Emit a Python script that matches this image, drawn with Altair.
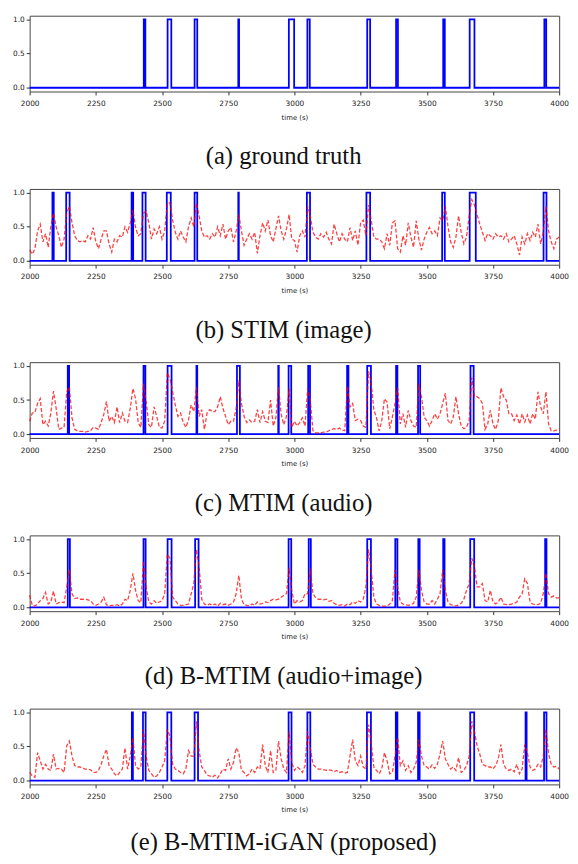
import altair as alt
import pandas as pd

# time grid for the score curves (seconds)
times = list(range(2000, 4001, 10))

# binary intervals (start, end) in seconds
gt_intervals = [(2431, 2437), (2521, 2535), (2623, 2633), (2788, 2791), (2979, 2999),
                (3049, 3058), (3275, 3286), (3384, 3391), (3562, 3568), (3662, 3680),
                (3944, 3951)]
stim_intervals = [(2086, 2091), (2138, 2151), (2385, 2391), (2426, 2438), (2518, 2533),
                  (2623, 2633), (2788, 2790), (3047, 3059), (3272, 3286), (3558, 3568),
                  (3662, 3685), (3941, 3952)]
mtim_intervals = [(2144, 2149), (2430, 2437), (2521, 2536), (2630, 2633), (2783, 2794),
                  (2939, 2941), (2978, 2988), (3052, 3059), (3199, 3204), (3275, 3289),
                  (3384, 3389), (3467, 3475), (3665, 3677)]
bmtim_intervals = [(2144, 2152), (2430, 2438), (2521, 2536), (2625, 2638), (2978, 2988),
                   (3054, 3062), (3275, 3289), (3381, 3389), (3468, 3473), (3562, 3567),
                   (3664, 3679), (3947, 3952)]
igan_intervals = [(2386, 2390), (2428, 2438), (2520, 2535), (2623, 2636), (2978, 2989),
                  (3049, 3060), (3274, 3289), (3383, 3389), (3467, 3473), (3664, 3679),
                  (3873, 3877), (3943, 3952)]

# predicted scores, one value every 10 s from 2000 to 4000
stim_scores = [
    0.16, 0.1, 0.18, 0.44, 0.54, 0.28, 0.4, 0.2, 0.5, 0.7,
    0.5, 0.37, 0.2, 0.32, 0.7, 0.8, 0.56, 0.37, 0.3, 0.28,
    0.3, 0.28, 0.37, 0.32, 0.49, 0.28, 0.18, 0.32, 0.44, 0.44,
    0.25, 0.13, 0.32, 0.28, 0.37, 0.35, 0.5, 0.42, 0.56, 0.75,
    0.49, 0.37, 0.4, 0.7, 0.73, 0.56, 0.32, 0.47, 0.4, 0.5,
    0.32, 0.44, 0.85, 0.85, 0.6, 0.42, 0.32, 0.44, 0.35, 0.28,
    0.5, 0.63, 0.5, 0.85, 0.66, 0.44, 0.35, 0.37, 0.32, 0.4,
    0.35, 0.5, 0.37, 0.54, 0.32, 0.44, 0.49, 0.28, 0.44, 0.68,
    0.44, 0.23, 0.32, 0.4, 0.32, 0.42, 0.11, 0.37, 0.56, 0.44,
    0.6, 0.37, 0.28, 0.47, 0.66, 0.44, 0.32, 0.47, 0.68, 0.32,
    0.3, 0.13, 0.37, 0.44, 0.35, 0.8, 0.66, 0.42, 0.35, 0.32,
    0.4, 0.35, 0.42, 0.32, 0.25, 0.54, 0.4, 0.28, 0.4, 0.32,
    0.28, 0.49, 0.3, 0.44, 0.23, 0.56, 0.6, 0.37, 0.82, 0.6,
    0.35, 0.32, 0.32, 0.28, 0.18, 0.4, 0.23, 0.56, 0.59, 0.18,
    0.13, 0.37, 0.23, 0.56, 0.35, 0.2, 0.59, 0.32, 0.16, 0.32,
    0.42, 0.49, 0.4, 0.44, 0.37, 0.63, 0.59, 0.8, 0.51, 0.28,
    0.2, 0.35, 0.66, 0.42, 0.25, 0.35, 0.66, 0.9, 0.82, 0.68,
    0.54, 0.42, 0.3, 0.4, 0.37, 0.32, 0.4, 0.35, 0.37, 0.32,
    0.4, 0.28, 0.32, 0.37, 0.25, 0.09, 0.35, 0.25, 0.4, 0.3,
    0.42, 0.35, 0.54, 0.25, 0.42, 0.8, 0.44, 0.28, 0.18, 0.32,
    0.35]
mtim_scores = [
    0.19, 0.31, 0.32, 0.45, 0.52, 0.14, 0.19, 0.12, 0.31, 0.63,
    0.38, 0.07, 0.09, 0.1, 0.62, 0.69, 0.24, 0.07, 0.05, 0.04,
    0.04, 0.03, 0.04, 0.05, 0.1, 0.09, 0.07, 0.17, 0.29, 0.48,
    0.19, 0.26, 0.17, 0.4, 0.17, 0.31, 0.19, 0.17, 0.38, 0.67,
    0.52, 0.17, 0.1, 0.74, 0.48, 0.14, 0.1, 0.4, 0.26, 0.1,
    0.09, 0.19, 0.9, 0.81, 0.62, 0.43, 0.26, 0.31, 0.17, 0.1,
    0.21, 0.43, 0.33, 0.69, 0.26, 0.36, 0.07, 0.31, 0.36, 0.33,
    0.33, 0.4, 0.55, 0.38, 0.26, 0.14, 0.19, 0.19, 0.38, 0.79,
    0.45, 0.26, 0.17, 0.21, 0.17, 0.19, 0.36, 0.17, 0.33, 0.19,
    0.17, 0.5, 0.12, 0.24, 0.69, 0.29, 0.14, 0.26, 0.67, 0.1,
    0.19, 0.12, 0.17, 0.24, 0.12, 0.67, 0.5, 0.05, 0.02, 0.02,
    0.02, 0.03, 0.03, 0.05, 0.07, 0.08, 0.07, 0.09, 0.06, 0.05,
    0.7, 0.4, 0.45, 0.2, 0.22, 0.2, 0.12, 0.1, 0.92, 0.75,
    0.36, 0.24, 0.05, 0.2, 0.52, 0.47, 0.08, 0.25, 0.45, 0.68,
    0.15, 0.3, 0.1, 0.35, 0.2, 0.12, 0.1, 0.74, 0.55, 0.25,
    0.2, 0.12, 0.2, 0.3, 0.22, 0.3, 0.45, 0.6, 0.2, 0.15,
    0.25, 0.55, 0.3, 0.12, 0.08, 0.1, 0.2, 0.83, 0.55, 0.55,
    0.52, 0.45, 0.07, 0.15, 0.35, 0.15, 0.07, 0.2, 0.68, 0.55,
    0.5, 0.3, 0.3, 0.2, 0.28, 0.15, 0.3, 0.18, 0.28, 0.15,
    0.3, 0.22, 0.62, 0.4, 0.3, 0.62, 0.15, 0.05, 0.05, 0.06,
    0.08]
bmtim_scores = [
    0.18, 0.03, 0.02, 0.05, 0.1, 0.13, 0.22, 0.05, 0.08, 0.24,
    0.05, 0.07, 0.08, 0.07, 0.3, 0.55, 0.2, 0.13, 0.14, 0.12,
    0.12, 0.12, 0.11, 0.1, 0.05, 0.03, 0.05, 0.08, 0.15, 0.04,
    0.02, 0.03, 0.03, 0.04, 0.02, 0.05, 0.12, 0.1, 0.25, 0.5,
    0.25, 0.1, 0.07, 0.68, 0.3, 0.08, 0.05, 0.1, 0.06, 0.08,
    0.1, 0.2, 0.78, 0.72, 0.15, 0.1, 0.05, 0.03, 0.03, 0.04,
    0.05, 0.2, 0.35, 0.85, 0.6, 0.12, 0.05, 0.03, 0.05, 0.03,
    0.05, 0.02, 0.06, 0.04, 0.05, 0.03, 0.05, 0.08, 0.2, 0.47,
    0.12, 0.04, 0.03, 0.02, 0.05, 0.03, 0.08, 0.05, 0.06, 0.08,
    0.07, 0.1, 0.12, 0.11, 0.12, 0.15, 0.18, 0.2, 0.58, 0.25,
    0.05, 0.1, 0.08, 0.1, 0.2, 0.2, 0.57, 0.2, 0.14, 0.12,
    0.12, 0.11, 0.12, 0.09, 0.1, 0.06, 0.04, 0.03, 0.04, 0.02,
    0.05, 0.04, 0.08, 0.06, 0.1, 0.08, 0.12, 0.3, 0.85, 0.55,
    0.15, 0.05, 0.03, 0.02, 0.02, 0.02, 0.05, 0.1, 0.55, 0.3,
    0.08, 0.05, 0.04, 0.03, 0.04, 0.06, 0.15, 0.55, 0.25, 0.08,
    0.05, 0.05, 0.1, 0.05, 0.12, 0.2, 0.55, 0.25, 0.08, 0.04,
    0.03, 0.02, 0.04, 0.06, 0.12, 0.25, 0.35, 0.72, 0.6, 0.3,
    0.3, 0.35, 0.1, 0.08, 0.25, 0.08, 0.05, 0.08, 0.15, 0.05,
    0.04, 0.04, 0.05, 0.06, 0.08, 0.15, 0.2, 0.42, 0.35, 0.08,
    0.05, 0.04, 0.04, 0.06, 0.2, 0.5, 0.2, 0.15, 0.17, 0.14,
    0.14]
igan_scores = [
    0.12, 0.07, 0.05, 0.41, 0.29, 0.17, 0.24, 0.17, 0.15, 0.39,
    0.17, 0.18, 0.17, 0.12, 0.51, 0.58, 0.36, 0.22, 0.2, 0.2,
    0.18, 0.17, 0.17, 0.16, 0.12, 0.12, 0.15, 0.24, 0.36, 0.46,
    0.22, 0.17, 0.1, 0.07, 0.12, 0.17, 0.48, 0.17, 0.36, 0.63,
    0.22, 0.17, 0.2, 0.75, 0.36, 0.15, 0.1, 0.05, 0.07, 0.12,
    0.2, 0.29, 0.75, 0.65, 0.24, 0.17, 0.15, 0.12, 0.1, 0.17,
    0.44, 0.36, 0.36, 0.87, 0.44, 0.2, 0.15, 0.08, 0.07, 0.05,
    0.08, 0.04, 0.1, 0.17, 0.15, 0.32, 0.17, 0.27, 0.48, 0.41,
    0.15, 0.12, 0.07, 0.1, 0.17, 0.12, 0.2, 0.17, 0.53, 0.22,
    0.12, 0.44, 0.12, 0.15, 0.58, 0.32, 0.17, 0.12, 0.72, 0.27,
    0.15, 0.2, 0.17, 0.12, 0.22, 0.72, 0.48, 0.24, 0.2, 0.17,
    0.17, 0.16, 0.15, 0.16, 0.15, 0.13, 0.15, 0.12, 0.13, 0.11,
    0.12, 0.36, 0.6, 0.29, 0.22, 0.36, 0.2, 0.17, 0.82, 0.55,
    0.2, 0.15, 0.1, 0.17, 0.41, 0.29, 0.1, 0.12, 0.36, 0.63,
    0.22, 0.29, 0.15, 0.22, 0.12, 0.17, 0.27, 0.6, 0.36, 0.22,
    0.2, 0.17, 0.23, 0.18, 0.24, 0.39, 0.58, 0.32, 0.24, 0.17,
    0.2, 0.15, 0.34, 0.12, 0.15, 0.22, 0.36, 0.87, 0.72, 0.51,
    0.39, 0.24, 0.22, 0.2, 0.2, 0.17, 0.22, 0.32, 0.53, 0.24,
    0.17, 0.15, 0.17, 0.13, 0.24, 0.1, 0.17, 0.53, 0.41, 0.2,
    0.15, 0.17, 0.24, 0.2, 0.36, 0.75, 0.39, 0.24, 0.2, 0.21,
    0.17]

captions = ["(a) ground truth", "(b) STIM (image)", "(c) MTIM (audio)",
            "(d) B-MTIM (audio+image)", "(e) B-MTIM-iGAN (proposed)"]
x_ticks = [2000, 2250, 2500, 2750, 3000, 3250, 3500, 3750, 4000]
y_ticks = [0.0, 0.5, 1.0]


def step_frame(intervals):
    xs, ys = [2000], [0]
    for s, e in intervals:
        xs += [s, s, e, e]
        ys += [0, 1, 1, 0]
    xs.append(4000)
    ys.append(0)
    return pd.DataFrame({"t": xs, "v": ys, "i": list(range(len(xs)))})


x_enc = alt.X("t:Q", scale=alt.Scale(domain=[2000, 4000], nice=False, zero=False),
              axis=alt.Axis(values=x_ticks, format="d", title="time (s)", labelFlush=False))
y_enc = alt.Y("v:Q", scale=alt.Scale(domain=[-0.055, 1.055], nice=False, zero=False),
              axis=alt.Axis(values=y_ticks, format=".1f", title=None))


def panel(intervals, scores, caption, offset):
    blue = alt.Chart(step_frame(intervals)).mark_line(
        color="#0000ff", strokeWidth=1.8, interpolate="linear"
    ).encode(x=x_enc, y=y_enc, order="i:Q")
    layers = [blue]
    if scores is not None:
        df = pd.DataFrame({"t": times, "v": scores})
        red = alt.Chart(df).mark_line(
            color="#ff0000", opacity=0.75, strokeWidth=1.3, strokeDash=[4, 2]
        ).encode(x=x_enc, y=y_enc)
        layers.append(red)
    return alt.layer(*layers).properties(
        width=538, height=77,
        title=alt.TitleParams(caption, orient="bottom", anchor="middle", frame="group",
                              font="Liberation Serif", fontSize=25, fontWeight="normal",
                              color="#111111", offset=offset, dx=-11),
    )


chart = alt.vconcat(
    panel(gt_intervals, None, captions[0], 25),
    panel(stim_intervals, stim_scores, captions[1], 25),
    panel(mtim_intervals, mtim_scores, captions[2], 25),
    panel(bmtim_intervals, bmtim_scores, captions[3], 25),
    panel(igan_intervals, igan_scores, captions[4], 18),
    spacing=18,
).configure_view(
    stroke="#444444", strokeWidth=1
).configure_axis(
    grid=False, domain=False, tickColor="#333333", tickSize=3.5,
    labelFont="DejaVu Sans", labelFontSize=7.5, labelColor="#222222",
    titleFont="DejaVu Sans", titleFontSize=7, titleFontWeight="normal",
    titleColor="#222222", titlePadding=6,
).configure_axisX(
    labelPadding=5
).configure_axisY(
    labelPadding=2
).properties(
    padding={"left": 4, "top": 0, "right": 0, "bottom": 0}
)

chart.save("out.html", embed_options={"renderer": "svg", "actions": False})
